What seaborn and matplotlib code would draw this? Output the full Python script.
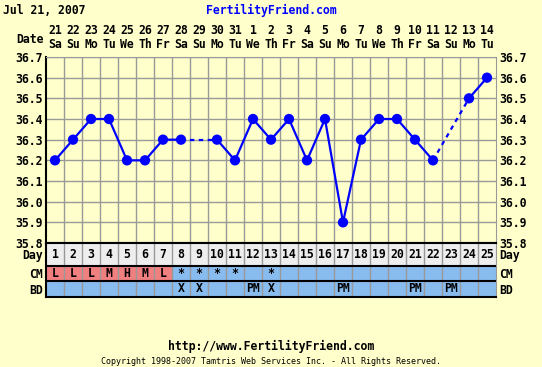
import numpy as np
import pandas as pd
import seaborn as sns
import matplotlib.pyplot as plt
from matplotlib.patches import Rectangle

# chart data
days = list(range(1, 26))
dates = ['21', '22', '23', '24', '25', '26', '27', '28', '29', '30', '31', '1', '2',
         '3', '4', '5', '6', '7', '8', '9', '10', '11', '12', '13', '14']
weekdays = ['Sa', 'Su', 'Mo', 'Tu', 'We', 'Th', 'Fr', 'Sa', 'Su', 'Mo', 'Tu', 'We', 'Th',
            'Fr', 'Sa', 'Su', 'Mo', 'Tu', 'We', 'Th', 'Fr', 'Sa', 'Su', 'Mo', 'Tu']
temps = [36.2, 36.3, 36.4, 36.4, 36.2, 36.2, 36.3, 36.3, np.nan, 36.3, 36.2, 36.4, 36.3,
         36.4, 36.2, 36.4, 35.9, 36.3, 36.4, 36.4, 36.3, 36.2, np.nan, 36.5, 36.6]
cm = ['L', 'L', 'L', 'M', 'H', 'M', 'L', '*', '*', '*', '*', '', '*',
      '', '', '', '', '', '', '', '', '', '', '', '']
bd = ['', '', '', '', '', '', '', 'X', 'X', '', '', 'PM', 'X',
      '', '', '', 'PM', '', '', '', 'PM', '', 'PM', '', '']
temp_ticks = [35.8, 35.9, 36.0, 36.1, 36.2, 36.3, 36.4, 36.5, 36.6, 36.7]
flow = ['L', 'M', 'H']   # cells painted pink in the CM row

W, H = 542, 367
BG = '#FFFFCC'
GRID = '#999999'
BLUE = '#0000FF'
CELL = '#88BBEE'
PINK = '#F08080'
FONT = dict(family='DejaVu Sans Mono', weight='bold', size=8.3)

plt.rcParams['font.family'] = 'DejaVu Sans Mono'
plt.rcParams['font.weight'] = 'bold'
plt.rcParams['font.size'] = 8.3


def fy(y):
    return 1 - y / H


fig = plt.figure(figsize=(W / 100, H / 100), dpi=100, facecolor=BG)
ax = fig.add_axes([46 / W, fy(243), 450 / W, (243 - 57) / H])
tab = fig.add_axes([46 / W, fy(297), 450 / W, (297 - 243) / H])

# ---- temperature chart
df = pd.DataFrame({'day': days, 'temp': temps})
df['seg'] = df['temp'].isna().cumsum()
pts = df.dropna()

ax.set_facecolor(BG)
sns.lineplot(data=pts, x='day', y='temp', units='seg', estimator=None,
             color=BLUE, lw=1.6, ax=ax, legend=False, zorder=3)

# dotted bridges over missing days
valid = pts['day'].tolist()
for a, b in zip(valid[:-1], valid[1:]):
    if b - a > 1:
        sns.lineplot(x=[a, b], y=[temps[a - 1], temps[b - 1]], color=BLUE, lw=1.6,
                     linestyle=(0, (2, 2)), ax=ax, zorder=3)

sns.scatterplot(data=pts, x='day', y='temp', color=BLUE, s=55, edgecolor='none',
                ax=ax, zorder=4, legend=False)

ax.set_xlim(0.5, 25.5)
ax.set_ylim(35.8, 36.7)
ax.set_xlabel('')
ax.set_ylabel('')
ax.set_yticks(temp_ticks)
ax.set_yticklabels([f'{t:.1f}' for t in temp_ticks])
ax.tick_params(axis='y', length=0, pad=2.5, labelright=True, labelleft=True)
ax.set_xticks(days)
ax.set_xticklabels([f'{d}\n{w}' for d, w in zip(dates, weekdays)], linespacing=1.1)
ax.xaxis.tick_top()
ax.tick_params(axis='x', length=0, pad=4.5)
ax.set_xticks(np.arange(1.5, 25.5, 1), minor=True)
ax.tick_params(which='minor', length=0)
ax.grid(which='minor', axis='x', color=GRID, lw=1)
ax.grid(which='major', axis='y', color=GRID, lw=1)
ax.grid(which='major', axis='x', visible=False)
ax.set_axisbelow(True)
for side in ['top', 'right']:
    ax.spines[side].set_color(GRID)
ax.spines['left'].set_color('black')
ax.spines['left'].set_linewidth(1.5)
ax.spines['bottom'].set_color('black')
ax.spines['bottom'].set_linewidth(1.5)

# ---- table rows below (BD 0-16, CM 16-31, Day 31-54)
tab.set_xlim(0.5, 25.5)
tab.set_ylim(0, 54)
tab.axhspan(31, 54, color='#EEEEEE', zorder=0)
tab.axhspan(0, 31, color=CELL, zorder=0)
for i, d in enumerate(days):
    if cm[i] in flow:
        tab.add_patch(Rectangle((d - 0.45, 17), 0.9, 13, color=PINK, zorder=1))
    tab.text(d, 42.5, str(d), ha='center', va='center', **FONT)
    if cm[i]:
        tab.text(d, 23.5, cm[i], ha='center', va='center', **FONT)
    if bd[i]:
        tab.text(d, 8, bd[i], ha='center', va='center', **FONT)
for x in np.arange(1.5, 25.5, 1):
    tab.axvline(x, color=GRID, lw=1, zorder=2)
for y in [16, 31]:
    tab.axhline(y, color='black', lw=1.5, zorder=3)
tab.set_xticks([])
tab.set_yticks([8, 23.5, 42.5])
tab.set_yticklabels(['BD', 'CM', 'Day'])
tab.tick_params(axis='y', length=0, pad=2.5, labelright=True, labelleft=True)
for side in ['top', 'bottom', 'left']:
    tab.spines[side].set_color('black')
    tab.spines[side].set_linewidth(1.5)
tab.spines['right'].set_color(GRID)

# ---- header and footer
fig.text(3 / W, fy(10), 'Jul 21, 2007', ha='left', va='center', **FONT)
fig.text(271 / W, fy(10), 'FertilityFriend.com', ha='center', va='center',
         color=BLUE, **FONT)
fig.text(44 / W, fy(39.5), 'Date', ha='right', va='center', **FONT)
fig.text(271 / W, fy(346), 'http://www.FertilityFriend.com', ha='center', va='center',
         **FONT)
fig.text(271 / W, fy(361.5),
         'Copyright 1998-2007 Tamtris Web Services Inc. - All Rights Reserved.',
         ha='center', va='center', family='DejaVu Sans Mono', weight='normal', size=6.0)

fig.savefig('out.png', dpi=100, facecolor=BG)
